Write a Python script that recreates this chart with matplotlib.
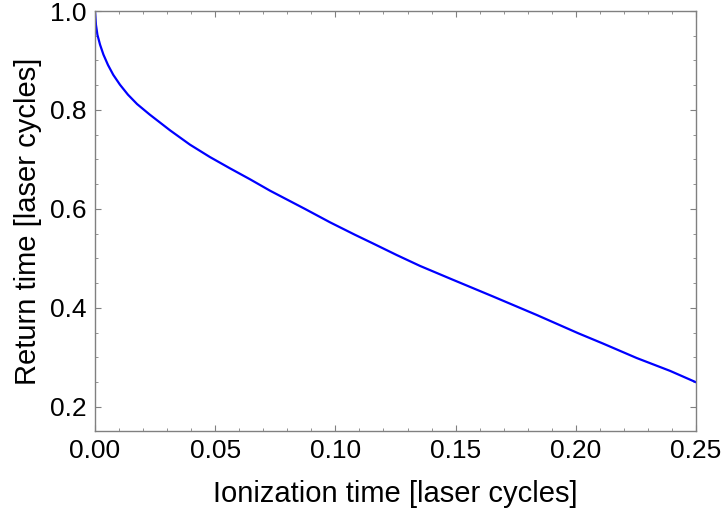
import numpy as np
import matplotlib.pyplot as plt
from matplotlib.ticker import MultipleLocator

# Дані: час іонізації та час повернення (у циклах лазера)
t_ion = [0.0, 0.0004, 0.0010, 0.0021, 0.0035, 0.0054, 0.0076, 0.0104,
         0.0137, 0.0175, 0.0227, 0.0312, 0.0395, 0.0478, 0.0562, 0.0645,
         0.0728, 0.0874, 0.0978, 0.1081, 0.1158, 0.1255, 0.1352, 0.1484,
         0.1657, 0.1837, 0.2010, 0.2114, 0.2253, 0.2392, 0.2500]
t_ret = [1.000, 0.972, 0.952, 0.932, 0.912, 0.891, 0.871, 0.851,
         0.831, 0.812, 0.791, 0.759, 0.730, 0.705, 0.682, 0.660,
         0.637, 0.600, 0.573, 0.548, 0.530, 0.507, 0.485, 0.458,
         0.423, 0.386, 0.349, 0.328, 0.299, 0.273, 0.250]

x_ticks = [0.00, 0.05, 0.10, 0.15, 0.20, 0.25]
y_ticks = [0.2, 0.4, 0.6, 0.8, 1.0]

plt.rcParams['font.family'] = ['Liberation Sans', 'DejaVu Sans']

fig = plt.figure(figsize=(7.26, 5.16), dpi=100)
ax = fig.add_axes([95 / 726, 1 - 431 / 516, 601 / 726, 420 / 516])

ax.plot(t_ion, t_ret, color='#0000ff', lw=1.6)

ax.set_xlim(0, 0.25)
ax.set_ylim(0.1515, 1.0)
ax.set_xticks(x_ticks)
ax.set_xticklabels([f"{v:.2f}" for v in x_ticks])
ax.set_yticks(y_ticks)
ax.set_yticklabels([f"{v:.1f}" for v in y_ticks])
ax.xaxis.set_minor_locator(MultipleLocator(0.01))
ax.yaxis.set_minor_locator(MultipleLocator(0.05))

frame = '#808080'
for s in ax.spines.values():
    s.set_color(frame)
    s.set_linewidth(1.0)
ax.tick_params(which='both', direction='in', top=True, right=True,
               color=frame, labelsize=19, labelcolor='black')
ax.tick_params(which='major', length=4, width=0.8, pad=6)
ax.tick_params(which='minor', length=2.5, width=0.6)

ax.set_xlabel("Ionization time [laser cycles]", fontsize=21, labelpad=12)
ax.set_ylabel("Return time [laser cycles]", fontsize=21, labelpad=6)

fig.savefig("out.png", dpi=100)
